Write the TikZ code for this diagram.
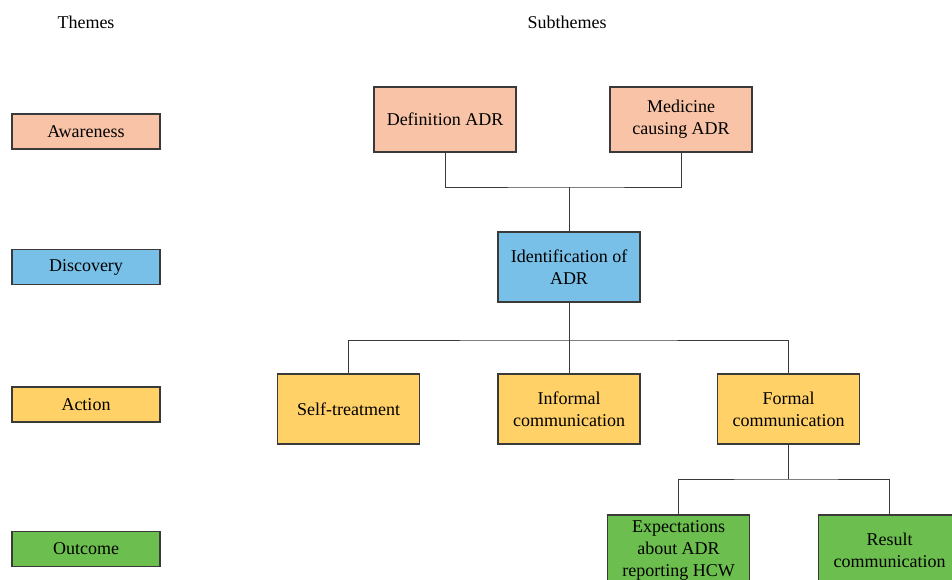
\documentclass[tikz,border=0pt]{standalone}
\usepackage{fontspec}
\setmainfont{Liberation Serif}
\usetikzlibrary{positioning}

\definecolor{awarefill}{HTML}{F8C3A6}
\definecolor{discfill}{HTML}{78C0E8}
\definecolor{actfill}{HTML}{FFD166}
\definecolor{outfill}{HTML}{6CBF4E}
\definecolor{linegray}{HTML}{3A3A3A}

\begin{document}
\begin{tikzpicture}[
    x=1pt, y=-1pt,
    font=\fontsize{18}{22}\selectfont,
    theme/.style={rectangle, draw=linegray, line width=1.1pt, minimum width=148pt, minimum height=35pt, inner sep=0pt},
    sub/.style={rectangle, draw=linegray, line width=1.1pt, minimum width=142pt, minimum height=70pt, align=center, inner sep=0pt},
    link/.style={draw=linegray, line width=1pt}
]
    \useasboundingbox (0,0) rectangle (952,580);
    \clip (0,0) rectangle (952,580);

    % headings
    \node (themes) at (86,22) {Themes};
    \node (subthemes) at (567,22) {Subthemes};

    % themes column
    \node[theme, fill=awarefill] (aware) at (86,131.5) {Awareness};
    \node[theme, fill=discfill] (disc) at (86,267) {Discovery};
    \node[theme, fill=actfill] (act) at (86,404.5) {Action};
    \node[theme, fill=outfill] (outc) at (86,549) {Outcome};

    % subthemes
    \node[sub, fill=awarefill, minimum height=65pt] (defadr) at (445,119.5) {Definition ADR};
    \node[sub, fill=awarefill, minimum height=65pt] (medadr) at (681,119.5) {Medicine\\causing ADR};
    \node[sub, fill=discfill] (ident) at (569,267) {Identification of\\ADR};
    \node[sub, fill=actfill] (selftr) at (348.5,409) {Self-treatment};
    \node[sub, fill=actfill] (informal) at (569,409) {Informal\\communication};
    \node[sub, fill=actfill] (formal) at (788.5,409) {Formal\\communication};
    \node[sub, fill=outfill] (expect) at (678.5,550) {Expectations\\about ADR\\reporting HCW};
    \node[sub, fill=outfill] (result) at (889.5,550) {Result\\communication};

    % junctions
    \coordinate (j1) at (569,187);
    \coordinate (j2) at (569,340);
    \coordinate (j3) at (788.5,479);

    \draw[link] (defadr) |- (j1) -| (medadr);
    \draw[link] (j1) -- (ident);
    \draw[link] (ident) -- (j2);
    \draw[link] (selftr) |- (j2) -| (formal);
    \draw[link] (j2) -- (informal);
    \draw[link] (formal) -- (j3);
    \draw[link] (expect) |- (j3) -| (result);
\end{tikzpicture}
\end{document}
